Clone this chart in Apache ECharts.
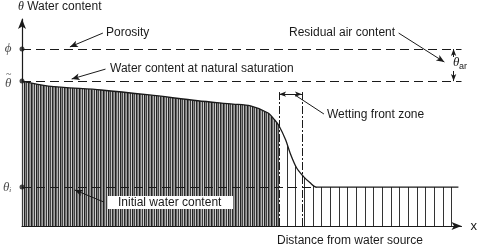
<!DOCTYPE html>
<html>
<head>
<meta charset="utf-8">
<style>
  html, body { margin: 0; padding: 0; background: #fff; }
  #chart { width: 480px; height: 248px; }
</style>
<script src="https://cdn.jsdelivr.net/npm/echarts@6/dist/echarts.min.js"></script>
</head>
<body>
<div id="chart"></div>
<script>
  // moisture profile: distance from water source (0-100) and water content (0-1)
  const distance = [0, 6, 18, 29, 40, 48, 52, 56, 57.5, 58.5, 60, 61, 62.5, 64, 65.5, 67, 99.3];
  const theta = [0.700, 0.676, 0.657, 0.633, 0.605, 0.589, 0.580, 0.546, 0.512, 0.483, 0.415, 0.353, 0.28, 0.24, 0.21, 0.188, 0.188];
  // reference levels on the y axis: porosity, natural saturation, initial
  const levelNames = ['ϕ', 'θ̃', 'θᵢ'];
  const levelValues = [0.855, 0.700, 0.188];
  // wetting front zone (distance) and its top
  const frontZone = [58.5, 63.7];
  const frontTop = 0.647;

  const ink = '#1a1a1a';
  const font = 'Liberation Sans';

  // stripe patterns for the hatching
  function stripes(cols) {
    const c = document.createElement('canvas');
    c.width = cols.length;
    c.height = 4;
    const ctx = c.getContext('2d');
    cols.forEach((col, i) => {
      if (!col) return;
      ctx.fillStyle = col;
      ctx.fillRect(i, 0, 1, 4);
    });
    return { image: c, repeat: 'repeat' };
  }
  const densePattern = stripes(['#222', '#8a8a8a', '#444', '#c4c4c4', '#2a2a2a', '#777', '#a0a0a0', '#222', '#666', '#b0b0b0', '#3a3a3a', '#cfcfcf']);
  const sparseCols = new Array(26).fill(null);
  sparseCols[1] = sparseCols[9] = sparseCols[18] = '#333';
  const sparsePattern = stripes(sparseCols);

  const points = distance.map((d, i) => [d, theta[i]]);
  const wetted = points.filter(p => p[0] <= frontZone[0]);
  const ahead = points.filter(p => p[0] >= frontZone[0]);
  const flatStart = distance[distance.length - 2];

  const myChart = echarts.init(document.getElementById('chart'));

  // leader lines for the callouts (start near text, end at arrow tip)
  function leader(from, to, curve, tip) {
    return [
      { coord: from, symbol: 'none', lineStyle: { type: 'solid', width: 1, curveness: curve, color: ink } },
      { coord: to, symbol: tip ? 'arrow' : 'none', symbolSize: [5, 8] }
    ];
  }

  // level label: a combining tilde is set as a small mark above the letter
  function levelLabel(p) {
    if (p.name.indexOf('\u0303') >= 0) {
      return '{tl|~}\n{b|' + p.name.replace('\u0303', '') + '}';
    }
    return '{b|' + p.name + '}';
  }

  myChart.setOption({
    animation: false,
    grid: { left: 22, right: 17, top: 19, bottom: 22, containLabel: false },
    xAxis: {
      type: 'value', min: 0, max: 100,
      name: 'x', nameLocation: 'end', nameGap: 9,
      nameTextStyle: { fontFamily: font, fontSize: 13, color: ink, verticalAlign: 'middle' },
      axisLine: { lineStyle: { color: ink, width: 1.2 }, symbol: ['none', 'arrow'], symbolSize: [6, 10] },
      axisTick: { show: false }, axisLabel: { show: false }, splitLine: { show: false }
    },
    yAxis: {
      type: 'value', min: 0, max: 1,
      name: '{t|θ} Water content', nameLocation: 'end', nameGap: 6,
      nameTextStyle: {
        align: 'left', padding: [0, 0, 0, -4], fontFamily: font, fontSize: 12, color: ink,
        rich: { t: { fontFamily: 'Liberation Serif', fontStyle: 'italic', fontSize: 12, color: ink } }
      },
      axisLine: { show: true, lineStyle: { color: ink, width: 1.2 }, symbol: ['none', 'arrow'], symbolSize: [6, 10] },
      axisTick: { show: false }, axisLabel: { show: false }, splitLine: { show: false }
    },
    graphic: [
      { type: 'text', style: { x: 106, y: 33, text: 'Porosity', font: '12px ' + font, fill: ink, verticalAlign: 'middle' } },
      { type: 'text', style: { x: 110, y: 69, text: 'Water content at natural saturation', font: '12px ' + font, fill: ink, verticalAlign: 'middle' } },
      { type: 'text', style: { x: 289, y: 33, text: 'Residual air content', font: '12px ' + font, fill: ink, verticalAlign: 'middle' } },
      { type: 'text', style: { x: 327, y: 115, text: 'Wetting front zone', font: '12px ' + font, fill: ink, verticalAlign: 'middle' } },
      { type: 'rect', z: 10, shape: { x: 108, y: 196, width: 125, height: 13 }, style: { fill: '#fff' } },
      { type: 'text', z: 11, style: { x: 118, y: 203, text: 'Initial water content', font: '12px ' + font, fill: ink, verticalAlign: 'middle' } },
      { type: 'text', style: { x: 350, y: 241, text: 'Distance from water source', font: '12px ' + font, fill: ink, align: 'center', verticalAlign: 'middle' } },
      { type: 'rect', z: 10, shape: { x: 451, y: 57, width: 16, height: 14 }, style: { fill: '#fff' } },
      { type: 'text', z: 11, style: { x: 453, y: 63, text: 'θ', font: 'italic 13px Liberation Serif', fill: ink, verticalAlign: 'middle' } },
      { type: 'text', z: 11, style: { x: 459, y: 67, text: 'ar', font: '9px ' + font, fill: ink, verticalAlign: 'middle' } }
    ],
    series: [
      {
        type: 'line', data: wetted, smooth: 0.3, symbol: 'none',
        lineStyle: { width: 0 }, areaStyle: { color: densePattern, opacity: 1 }
      },
      {
        type: 'line', data: ahead, smooth: 0.3, symbol: 'none',
        lineStyle: { width: 0 }, areaStyle: { color: sparsePattern, opacity: 1 }
      },
      {
        type: 'line', data: points, smooth: 0.3, symbol: 'none', z: 5,
        lineStyle: { color: ink, width: 1.3 },
        markLine: {
          silent: true, symbol: 'none', animation: false,
          label: { show: false },
          lineStyle: { color: ink, width: 1.2, type: [9, 5] },
          data: [
            [{ coord: [0, levelValues[0]] }, { coord: [100, levelValues[0]] }],
            [{ coord: [0, levelValues[1]] }, { coord: [100, levelValues[1]] }],
            [{ coord: [0, levelValues[2]] }, { coord: [flatStart, levelValues[2]] }],
            [{ coord: [frontZone[0], 0], lineStyle: { type: [8, 2, 2, 2], width: 1 } }, { coord: [frontZone[0], frontTop] }],
            [{ coord: [frontZone[1], 0], lineStyle: { type: [8, 2, 2, 2], width: 1 } }, { coord: [frontZone[1], frontTop] }],
            [{ coord: [frontZone[0], frontTop - 0.01], symbol: 'arrow', symbolSize: [4, 7], lineStyle: { type: 'solid', width: 1 } },
             { coord: [frontZone[1], frontTop - 0.01], symbol: 'arrow', symbolSize: [4, 7] }],
            [{ coord: [98.2, levelValues[1]], symbol: 'arrow', symbolSize: [4, 7], lineStyle: { type: 'solid', width: 1 } },
             { coord: [98.2, levelValues[0]], symbol: 'arrow', symbolSize: [4, 7] }],
            leader([18.4, 0.932], [10.9, 0.865], -0.3, true),
            leader([19.0, 0.758], [11.3, 0.710], -0.3, true),
            leader([85.7, 0.932], [96.1, 0.792], 0.3, true),
            leader([68.7, 0.541], [62.1, 0.633], 0.35, false),
            leader([18.6, 0.116], [12.0, 0.174], 0.3, true)
          ]
        }
      },
      {
        type: 'scatter', clip: false, z: 6,
        data: levelValues.map((v, i) => ({ value: [0, v], name: levelNames[i] })),
        symbolSize: 5, itemStyle: { color: ink },
        label: {
          show: true, position: 'left', distance: 8,
          formatter: levelLabel,
          rich: {
            b: { fontFamily: 'Liberation Serif', fontStyle: 'italic', fontSize: 13, color: ink, lineHeight: 13 },
            tl: { fontFamily: 'Liberation Serif', fontSize: 10, color: ink, lineHeight: 5, padding: [0, 0, 0, 2] }
          }
        }
      }
    ]
  });

  window.addEventListener('resize', () => {
    myChart && myChart.resize();
  });
</script>
</body>
</html>
